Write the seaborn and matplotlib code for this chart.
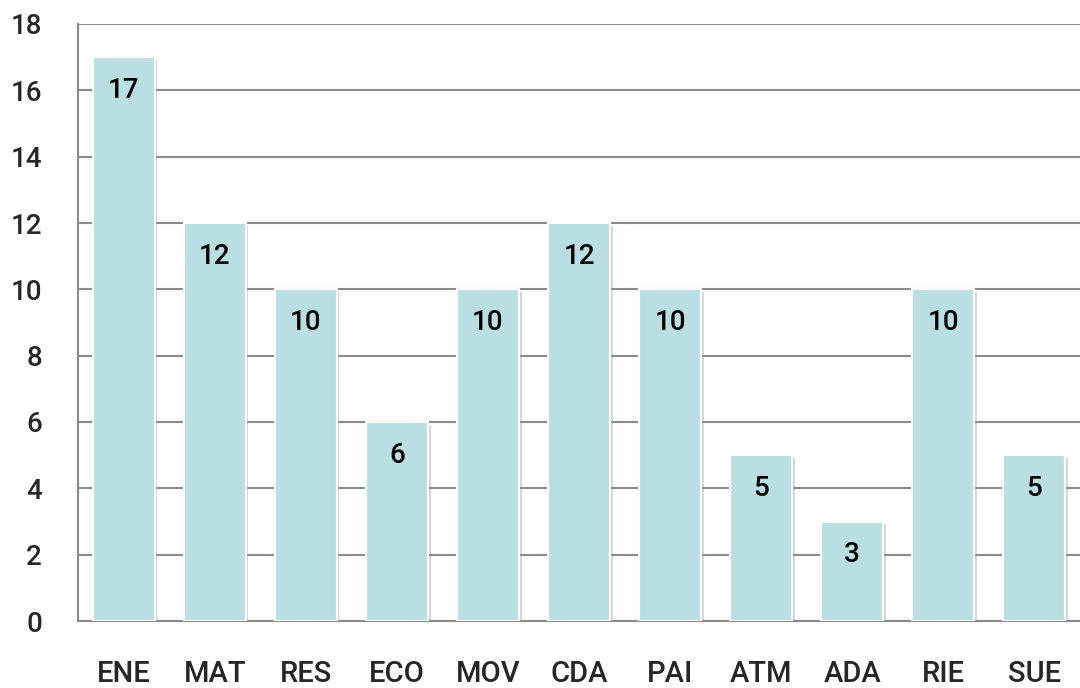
import matplotlib
matplotlib.use("Agg")
import matplotlib.pyplot as plt
import matplotlib.patheffects as pe
import seaborn as sns
import pandas as pd

categories = ["ENE", "MAT", "RES", "ECO", "MOV", "CDA", "PAI", "ATM", "ADA", "RIE", "SUE"]
values = [17, 12, 10, 6, 10, 12, 10, 5, 3, 10, 5]
y_ticks = [0, 2, 4, 6, 8, 10, 12, 14, 16, 18]

sns.set_theme(style="white")
plt.rcParams['font.family'] = ['Roboto', 'DejaVu Sans']
plt.rcParams['font.weight'] = 500

df = pd.DataFrame({"cat": categories, "val": values})

fig = plt.figure(figsize=(10.8, 6.88), dpi=100)
ax = fig.add_axes([78/1080, 67/688, 1 - 78/1080, (621-24)/688])

sns.barplot(data=df, x="cat", y="val", color="#b9dfe2", width=0.68,
            edgecolor="white", linewidth=1.5, ax=ax, zorder=3, saturation=1)
for p in ax.patches:
    p.set_path_effects([pe.SimplePatchShadow(offset=(2, -2), shadow_rgbFace="#999999", alpha=0.4),
                        pe.Normal()])

for i, v in enumerate(values):
    ax.text(i, v - 1.0, str(v), ha="center", va="center", fontsize=20,
            fontweight=500, color="black", zorder=5)

ax.set_ylim(0, 18)
ax.set_xlim(-0.5, 10.48)
ax.set_yticks(y_ticks)
ax.set_yticklabels([str(t) for t in y_ticks], fontsize=20, fontweight=500)
ax.yaxis.grid(True, color="#8a8a8a", linewidth=1.5, zorder=0)
ax.set_axisbelow(True)

ax.set_xticks(range(len(categories)))
ax.set_xticklabels(categories, fontsize=21, fontweight=500)
ax.tick_params(axis="x", length=0, pad=28)
ax.set_xticks([i - 0.5 for i in range(len(categories) + 1)], minor=True)
ax.tick_params(axis="x", which="minor", length=10, width=1.5, color="#8a8a8a", direction="out")
ax.tick_params(axis="y", length=10, width=1.5, color="#8a8a8a", direction="out", pad=16)
ax.set_xlabel("")
ax.set_ylabel("")

for s in ["top", "right"]:
    ax.spines[s].set_visible(False)
for s in ["left", "bottom"]:
    ax.spines[s].set_color("#8a8a8a")
    ax.spines[s].set_linewidth(1.5)

fig.savefig("out.png", dpi=100)
